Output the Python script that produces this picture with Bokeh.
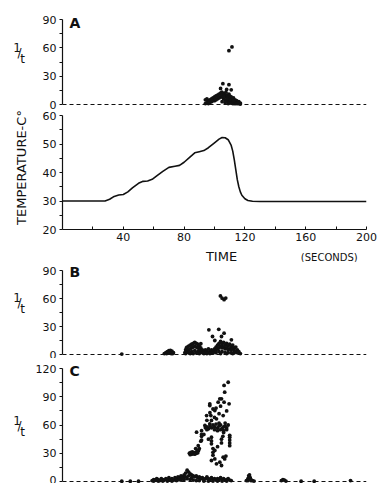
from bokeh.plotting import figure
from bokeh.layouts import column, row
from bokeh.models import Range1d, FixedTicker, Label, Span
from bokeh.embed import file_html
from bokeh.resources import INLINE

FONT = "DejaVu Sans"
INK = "#111111"

# ---------------- data ----------------
time_s = [0, 10, 20, 28, 31, 34, 37, 40, 43, 46, 50, 53, 56, 59, 62, 66, 70, 74, 77, 80,
          84, 87, 90, 93, 96, 100, 103, 105, 107, 109, 111, 112, 113, 114, 115, 116, 117,
          118, 120, 122, 125, 130, 140, 160, 180, 200]
temp_c = [30, 30, 30, 30, 30.6, 31.6, 32.1, 32.3, 33.2, 34.6, 36.2, 36.9, 37.0, 37.6, 38.8,
          40.4, 41.8, 42.2, 42.5, 43.6, 45.5, 46.9, 47.3, 47.7, 48.7, 50.4, 51.7, 52.3, 52.2,
          51.5, 49.5, 47.5, 44.5, 41.0, 37.5, 35.0, 33.2, 32.0, 30.8, 30.2, 29.9, 29.8, 29.8,
          29.8, 29.8, 29.8]

a_x = [94, 95, 96, 97, 98, 99, 100, 101, 102, 103, 104, 104.8, 105.5, 106.5, 107, 107.5, 108,
       108.5, 109, 109.5, 110, 110.5, 111, 111.5, 112, 112.5, 113, 113.5, 114, 114.5, 115, 116,
       117,
       94, 95, 96, 97, 98, 99, 100, 101, 102, 103, 104, 105, 106, 107, 108, 109, 110, 111, 112,
       113, 114, 115, 116, 117, 105, 107, 109, 110, 112,
       96.5, 98.5, 100.5, 102.5, 105, 106, 108.5, 110.5, 112.5,
       105.5, 109.5, 111, 104, 108, 109.5, 111.5]
a_y = [5, 6, 4, 5, 6, 7, 8, 9, 10, 11, 12, 13, 12, 11, 9, 13, 8,
       10, 7, 11, 9, 7, 8, 5, 6, 7, 4, 5, 3, 4, 2, 3,
       1.5,
       1, 2, 1, 2, 3, 4, 4, 5, 6, 7, 8, 8, 6, 5, 4, 3, 4, 2, 3,
       1, 1, 1, 1, 0.5, 3, 2, 1, 1.5, 1,
       3, 4.5, 6, 8, 10, 9, 6, 5, 4,
       22, 21, 15.5, 17, 16, 57, 61]

b_x = [39,
       67, 68, 69, 70, 71, 72, 73, 68.5, 70, 71.5, 72.5,
       80.5, 81, 81.5, 82, 83, 84, 85, 86, 87, 88, 89, 90, 91, 92,
       81, 82, 83, 84, 85, 86, 87, 88, 89, 90, 91, 92, 83, 85, 87, 89, 84, 86, 88, 90,
       93, 94, 95, 96, 97, 98, 99, 94, 96, 98, 100, 93, 95, 97, 99,
       100, 101, 102, 103, 104, 105, 106, 107, 108, 109, 110, 111, 112, 113, 114, 115, 116, 117,
       101, 102, 103, 104, 105, 106, 107, 108, 109, 110, 111, 112, 113, 114, 115,
       101, 103, 105, 107, 109, 111, 113, 104, 108, 112,
       91, 96.3, 98.7, 102.8, 104.6, 106.3, 111.1, 100.2,
       103.9, 105.0, 106.3, 107.4]
b_y = [0.5,
       1, 2, 3, 4, 4.5, 3.5, 2, 1, 1.5, 1, 1,
       2, 5, 7, 8, 9, 10, 11, 12, 13, 12, 11, 9, 7, 5,
       1, 3, 5, 6, 7, 8, 9, 8, 7, 5, 3, 2, 2, 3, 4, 3, 1, 1, 2, 1,
       3, 5, 4, 6, 3, 5, 4, 2, 2, 2, 3, 1, 1, 1, 1.5,
       6, 8, 10, 12, 14, 11, 13, 10, 12, 9, 11, 8, 10, 7, 8, 5, 3, 1,
       4, 6, 7, 9, 7, 8, 6, 7, 5, 6, 5, 6, 4, 3, 2,
       2, 3, 3, 2, 2, 2, 2, 1, 1, 1,
       11.5, 26.4, 19.3, 27, 19.3, 22.8, 15.7, 15,
       62.7, 60.3, 58.7, 60.5]

c_x = [39, 44.6, 50,
       59, 60, 61, 62, 63, 64, 65, 66, 67, 68, 69, 70, 71, 72, 73, 74, 75, 76, 77, 78, 79, 80,
       81, 82, 83, 84, 85, 86, 87, 88, 89, 90, 91, 92, 93, 94, 95, 96, 97, 98, 99, 100, 101,
       102, 103, 104, 105, 106, 107, 108, 109, 110, 111,
       60, 63, 66, 69, 72, 75, 78, 80, 82, 84, 86, 88, 90, 93, 96, 99, 102, 105, 108,
       81, 83, 85, 79, 77,
       121, 122, 122.5, 123, 123.5, 124, 125, 126, 122, 124,
       144, 145, 146, 147,
       157, 165.6, 189.5,
       83.5, 84, 84.5, 85, 85.5, 86, 86.5, 87, 87.5, 88, 88.5, 89, 89.5, 90,
       88.2, 89.3, 87.6, 91, 91.5, 91.5, 93.7, 94.8, 96.9, 96.9, 98, 99, 100.2, 103.5, 104.6,
       102.4, 106.3, 106.3, 106.7, 109, 109.6, 97.6, 101.3, 105.7, 96.9,
       94, 95, 96, 97, 98, 99, 100, 101, 102, 103, 104, 105, 106, 107, 108, 109, 100, 102, 104,
       106, 108, 95, 103, 107,
       98, 98, 98, 104.6, 104.6, 105.5, 106, 110, 110, 110, 110, 110, 91.5, 91.5,
       99, 99, 99, 100.2, 100.2, 105.7, 103.5, 101.3, 106.7, 104.6, 98, 107.5, 102, 96, 93, 95,
       100, 103, 108, 97, 101, 104]
c_y = [0.3, 0.3, 0.3,
       1, 2, 1.5, 3, 2, 1, 3, 2, 1.5, 3, 2, 4, 2, 3, 1.5, 4, 3, 5, 4, 6, 5, 7,
       9, 12, 10, 8, 7, 6, 5, 6, 4, 5, 3, 4, 2, 3, 5, 3, 2, 4, 2, 3, 1.5,
       3, 2, 4, 2, 3, 1.5, 2, 3, 1.5, 1,
       0.5, 0.5, 0.5, 0.5, 0.5, 1, 1.5, 2, 3, 2, 1.5, 1, 1, 0.5, 0.5, 0.5, 0.5, 0.5, 0.5,
       5, 6, 4, 3, 2,
       1, 3, 6, 7, 4, 2, 1, 0.5, 1, 1,
       1, 2, 1.5, 0.5,
       0.3, 0.3, 1,
       30, 28.5, 31, 29, 31.5, 29.5, 30.5, 29, 31, 30, 32, 30.5, 33, 35,
       52.4, 38, 35, 42.8, 54, 48, 59.5, 70, 82.5, 80.7, 64.8, 77, 75.4, 87.8, 87.8,
       84.2, 84.2, 102, 94.8, 105.4, 82.5, 70, 66.6, 70, 61.3,
       57, 58, 56, 59, 57, 60, 58, 61, 57, 59, 60, 56, 58, 59, 57, 60, 55, 54, 55,
       54, 55, 55, 62, 62,
       40, 43, 47, 41, 45, 48, 52, 38, 41, 44, 47, 49, 44, 50,
       28, 31, 35, 24, 33, 25.8, 20.5, 18.8, 24, 17, 22.3, 27, 37, 45, 50, 65,
       68, 72, 75, 73, 78, 80]

scatter_ticks = [0, 30, 60, 90]
scatter_minor = [15, 45, 75]
c_ticks = [0, 30, 60, 90, 120]
c_minor = [15, 45, 75, 105]
temp_ticks = [20, 30, 40, 50, 60]
temp_minor = [25, 35, 45, 55]
time_ticks = [40, 80, 120, 160, 200]
time_minor = [20, 60, 100, 140, 180]

# ---------------- layout (page has no margin: pixel coords = page coords) ----------------
LEFT_W = 32          # narrow strip that holds the left-hand titles
TOTAL_H = 483
W = 346
BL, BR = 28, 12
XS = 306 / 200       # px per second


def style_yaxis(ax, ticks, minors, bounds):
    ax.ticker = FixedTicker(ticks=ticks, minor_ticks=minors)
    ax.bounds = bounds
    ax.axis_line_color = INK
    ax.axis_line_width = 1.2
    ax.major_tick_line_color = INK
    ax.minor_tick_line_color = INK
    ax.major_tick_out = 3
    ax.major_tick_in = 0
    ax.minor_tick_out = 3
    ax.minor_tick_in = 0
    ax.major_label_text_font = FONT
    ax.major_label_text_font_size = "11px"
    ax.major_label_text_color = INK
    ax.major_label_standoff = 3


def bare(p):
    p.grid.visible = False
    p.outline_line_color = None
    return p


def scatter_panel(height, top, y0, y1, xs, ys, ticks, minors, letter, letter_y):
    p = figure(width=W, height=height, x_range=Range1d(0, 200), y_range=Range1d(y0, y1),
               output_backend="svg", toolbar_location=None, x_axis_location=None,
               min_border_left=BL, min_border_right=BR, min_border_top=top,
               min_border_bottom=0)
    bare(p)
    style_yaxis(p.yaxis[0], ticks, minors, (ticks[0], ticks[-1]))
    p.add_layout(Span(location=0, dimension="width", line_color=INK, line_width=1.1,
                      line_dash="4 3"))
    p.scatter(xs, ys, size=3.8, color=INK, line_width=0)
    p.add_layout(Label(x=4.6, y=letter_y, text=letter, text_font=FONT,
                       text_font_size="14px", text_font_style="bold", text_color=INK,
                       text_baseline="middle", text_align="left"))
    return p


# Panel A : 0 -> page 104, 90 -> page 19 ; frame 12..109
sa = 85 / 90
pa = scatter_panel(109, 12, -(109 - 104) / sa, (104 - 12) / sa, a_x, a_y,
                   scatter_ticks, scatter_minor, "A", (104 - 22) / sa)

# Temperature panel : frame 109..229, 20 -> 229, 60 -> 115
st = 114 / 40
pt = bare(figure(width=W, height=137, x_range=Range1d(0, 200),
                 y_range=Range1d(20, 20 + 120 / st), output_backend="svg",
                 toolbar_location=None, min_border_left=BL, min_border_right=BR,
                 min_border_top=0, min_border_bottom=17))
style_yaxis(pt.yaxis[0], temp_ticks, temp_minor, (20, 60))
xa = pt.xaxis[0]
xa.ticker = FixedTicker(ticks=time_ticks, minor_ticks=time_minor)
xa.bounds = (0, 200)
xa.axis_line_color = INK
xa.axis_line_width = 1.2
xa.major_tick_line_color = INK
xa.minor_tick_line_color = INK
xa.major_tick_in = 3
xa.major_tick_out = 0
xa.minor_tick_in = 3
xa.minor_tick_out = 0
xa.major_label_text_font = FONT
xa.major_label_text_font_size = "11px"
xa.major_label_text_color = INK
xa.major_label_standoff = 3
pt.line(time_s, temp_c, line_color=INK, line_width=1.6, line_join="round")

# strip under the temperature axis (page 246..262) holding TIME / (SECONDS)
strip = bare(figure(width=W, height=16, x_range=Range1d(-BL / XS, 200 + BR / XS),
                    y_range=Range1d(16, 0), output_backend="svg", toolbar_location=None,
                    x_axis_location=None, y_axis_location=None, min_border_left=0,
                    min_border_right=0, min_border_top=0, min_border_bottom=0))
strip.add_layout(Label(x=100, y=9.5, text="TIME", text_font=FONT, text_font_size="13px",
                       text_color=INK, text_align="center", text_baseline="middle"))
strip.add_layout(Label(x=201.3, y=10.5, text="(SECONDS)", text_font=FONT,
                       text_font_size="10px", text_color=INK, text_align="right",
                       text_baseline="middle"))

# Panel B : 0 -> 354, 90 -> 270 ; frame 264..358
sb = 84 / 90
pb = scatter_panel(96, 2, -(358 - 354) / sb, (354 - 264) / sb, b_x, b_y,
                   scatter_ticks, scatter_minor, "B", (354 - 271) / sb)

# Panel C : 0 -> 481, 120 -> 368 ; frame 360..483
sc = 113 / 120
pc = scatter_panel(125, 2, -2 / sc, (481 - 360) / sc, c_x, c_y,
                   c_ticks, c_minor, "C", (481 - 370) / sc)

# left strip with the y titles (coordinates = page pixels)
left = bare(figure(width=LEFT_W, height=TOTAL_H, x_range=Range1d(0, LEFT_W),
                   y_range=Range1d(TOTAL_H, 0), output_backend="svg", toolbar_location=None,
                   x_axis_location=None, y_axis_location=None, min_border_left=0,
                   min_border_right=0, min_border_top=0, min_border_bottom=0))
for yc in (52, 302, 425):
    for txt, px, dy in (("1", 16.5, -5), ("/", 19, 0), ("t", 22, 6)):
        left.add_layout(Label(x=px, y=yc + dy, text=txt, text_font=FONT,
                              text_font_size="12px", text_color=INK,
                              text_align="center", text_baseline="middle"))
left.add_layout(Label(x=21, y=167, text="TEMPERATURE-C°", text_font=FONT,
                      text_font_size="13px", text_color=INK, angle=90, angle_units="deg",
                      text_align="center", text_baseline="middle"))

layout = row(left, column(pa, pt, strip, pb, pc, spacing=0), spacing=0)
open("out.html", "w").write(file_html(layout, INLINE))
